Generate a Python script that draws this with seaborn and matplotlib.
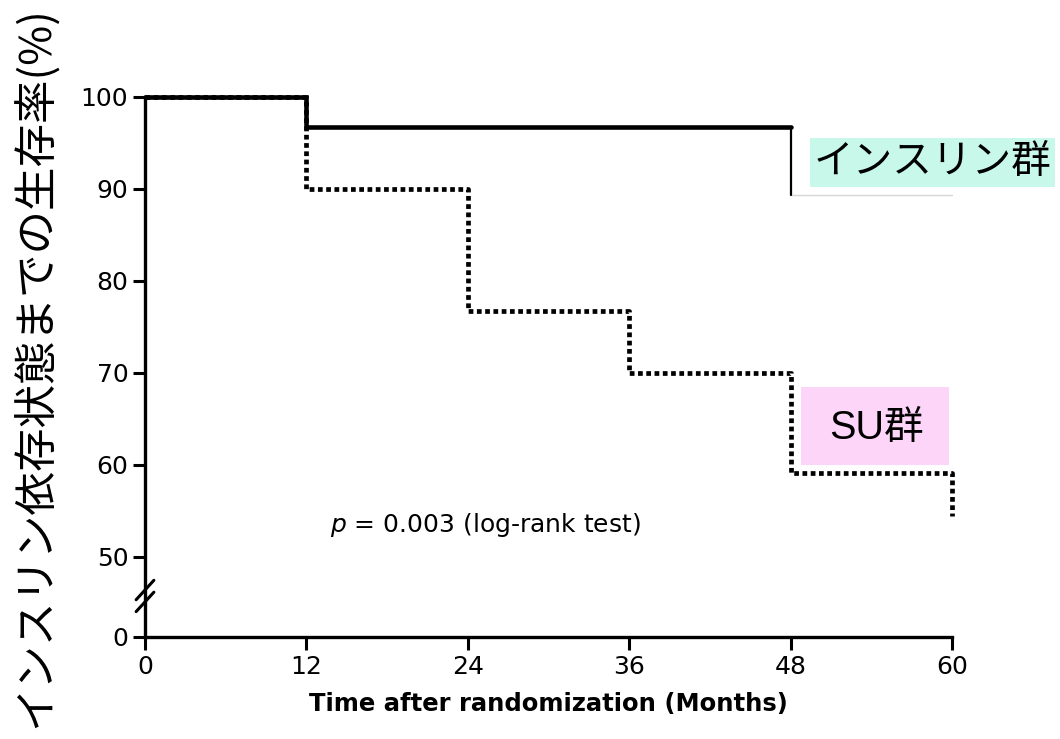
import numpy as np
import pandas as pd
import matplotlib
matplotlib.use("Agg")
import matplotlib.pyplot as plt
from matplotlib.patches import Rectangle
import seaborn as sns

# Kaplan-Meier estimates (% free from insulin dependence) at each visit
months = [0, 12, 24, 36, 48, 60]
insulin_surv = [100.0, 96.7, 96.7, 96.7, 89.3, 89.3]
su_surv = [100.0, 90.0, 76.7, 70.0, 59.1, 54.5]
x_ticks = [0, 12, 24, 36, 48, 60]
y_ticks = [0, 50, 60, 70, 80, 90, 100]

group_insulin = "インスリン群"
group_su = "SU群"
y_label = "インスリン依存状態までの生存率(%)"
x_label = "Time after randomization (Months)"
p_text = "$p$ = 0.003 (log-rank test)"

sns.set_style("ticks")
plt.rcParams["font.family"] = ["DejaVu Sans", "Noto Sans CJK JP"]
plt.rcParams.update({"text.color": "black", "axes.labelcolor": "black",
                     "xtick.color": "black", "ytick.color": "black",
                     "mathtext.fontset": "dejavusans"})

fig = plt.figure(figsize=(10.6, 7.39), dpi=100)
ax = fig.add_axes([145 / 1060, 102 / 739, 807 / 1060, 540 / 739])

# broken y axis: 0-50 compressed into a short segment below 50
squeeze = 0.174
def fwd(v):
    v = np.asarray(v, dtype=float)
    return np.where(v >= 50, v, 50 - (50 - v) * squeeze)
def inv(u):
    u = np.asarray(u, dtype=float)
    return np.where(u >= 50, u, 50 - (50 - u) / squeeze)
ax.set_yscale("function", functions=(fwd, inv))

df_ins = pd.DataFrame({"month": months, "surv": insulin_surv})
df_su = pd.DataFrame({"month": months, "surv": su_surv})

# SU group: dotted step curve
sns.lineplot(data=df_su, x="month", y="surv", drawstyle="steps-post",
             color="black", lw=3.4, linestyle=(0, (1, 0.75)),
             dash_capstyle="butt", ax=ax, clip_on=False, zorder=3)

# Insulin group: solid step curve up to the last event
last = len(months) - 2
head = df_ins.iloc[:last].copy()
head = pd.concat([head, pd.DataFrame({"month": [months[last]],
                                      "surv": [insulin_surv[last - 1]]})])
sns.lineplot(data=head, x="month", y="surv", drawstyle="steps-post",
             color="black", lw=3.3, ax=ax, clip_on=False, zorder=4,
             solid_joinstyle="miter")
ax.plot([months[last], months[last]], [insulin_surv[last - 1], insulin_surv[last]],
        color="black", lw=1.6, clip_on=False, zorder=4)
ax.plot([months[last], months[-1]], [insulin_surv[last], insulin_surv[-1]],
        color="#d6d6d6", lw=1.0, clip_on=False, zorder=2)

ax.set_xlim(0, 60)
ax.set_ylim(0, 100)
ax.set_xticks(x_ticks)
ax.set_yticks(y_ticks)
ax.tick_params(axis="both", direction="out", length=9, width=2.2,
               labelsize=18, pad=3, color="black", labelcolor="black")
ax.tick_params(axis="x", pad=4)
for side in ("top", "right"):
    ax.spines[side].set_visible(False)
for side in ("left", "bottom"):
    ax.spines[side].set_linewidth(2.4)
    ax.spines[side].set_color("black")
ax.set_xlabel(x_label, fontsize=17.5, fontweight="bold", labelpad=9)
ax.set_ylabel("")

# break marks on the y axis
for yc in (0.087, 0.065):
    ax.plot([-0.011, 0.011], [yc - 0.018, yc + 0.018], transform=ax.transAxes,
            color="black", lw=2.2, clip_on=False, zorder=5)

ax.text(0.422, 0.208, p_text, transform=ax.transAxes, fontsize=18,
        ha="center", va="center")

# y-axis title
fig.text(0.034, 0.503, y_label, rotation=90, ha="center", va="center",
         fontsize=31.3, family=["Noto Sans CJK JP", "DejaVu Sans"])

# group labels on coloured boxes
W, H = 1060, 739
fig.patches.append(Rectangle((810 / W, 1 - 187 / H), 245 / W, 49 / H,
                             transform=fig.transFigure, facecolor="#c8f8ea",
                             edgecolor="none", zorder=0))
fig.text(932 / W, 1 - 162 / H, group_insulin, ha="center", va="center",
         fontsize=28.5, family=["Noto Sans CJK JP", "DejaVu Sans"])
fig.patches.append(Rectangle((801 / W, 1 - 465 / H), 148 / W, 78 / H,
                             transform=fig.transFigure, facecolor="#fdd5f9",
                             edgecolor="none", zorder=0))
fig.text(876 / W, 1 - 428 / H, group_su, ha="center", va="center",
         fontsize=28.5, family=["Liberation Sans", "Noto Sans CJK JP"])

fig.savefig("out.png", dpi=100)
